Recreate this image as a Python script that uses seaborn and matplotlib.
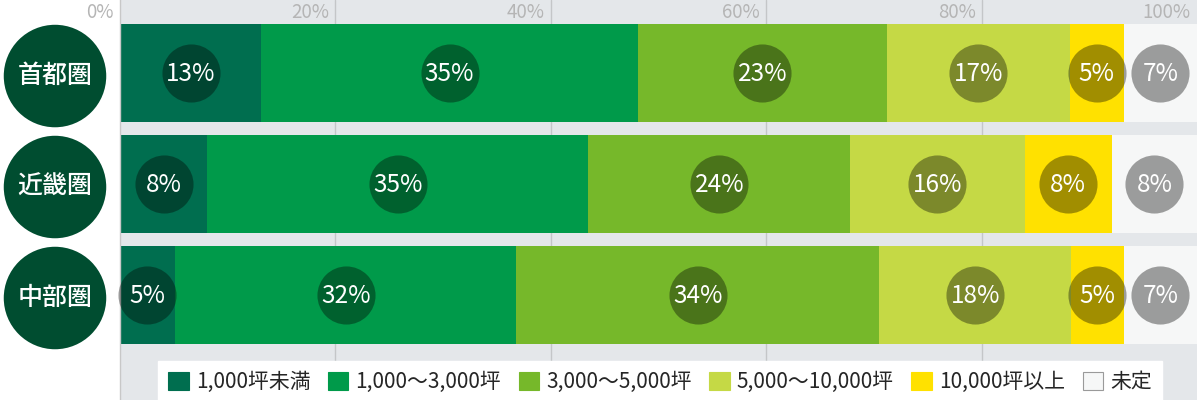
import numpy as np
import pandas as pd
import matplotlib
matplotlib.use('Agg')
import matplotlib.pyplot as plt
import matplotlib.transforms as mtransforms
import seaborn as sns
from matplotlib.patches import Patch

regions = ['首都圏', '近畿圏', '中部圏']
sizes = ['1,000坪未満', '1,000～3,000坪', '3,000～5,000坪',
         '5,000～10,000坪', '10,000坪以上', '未定']

# segment widths (%)
share_shuto = [13.1, 35.0, 23.1, 17.0, 5.0, 6.8]
share_kinki = [8.1, 35.4, 24.3, 16.2, 8.1, 7.9]
share_chubu = [5.1, 31.7, 33.7, 17.8, 4.9, 6.8]

# printed percentages
label_shuto = [13, 35, 23, 17, 5, 7]
label_kinki = [8, 35, 24, 16, 8, 8]
label_chubu = [5, 32, 34, 18, 5, 7]

colors = ['#006e4f', '#009a4a', '#76b82a', '#c5d945', '#ffe100', '#f6f7f7']
ticks = [0, 20, 40, 60, 80, 100]

sns.set_style('white')
plt.rcParams['font.family'] = ['Noto Sans CJK JP', 'DejaVu Sans']

shares = np.array([share_shuto, share_kinki, share_chubu])
labels = np.array([label_shuto, label_kinki, label_chubu])
cum = shares.cumsum(axis=1)
df = pd.DataFrame(cum, columns=sizes)
df['region'] = regions

fig = plt.figure(figsize=(12, 4), dpi=100)
ax = fig.add_axes([0.1, 0.0, 0.8975, 1.0])
ax.set_facecolor('#e4e7ea')

# stacked bars: draw cumulative totals from the longest to the shortest
for k in range(len(sizes) - 1, -1, -1):
    sns.barplot(data=df, x=sizes[k], y='region', orient='h', color=colors[k],
                saturation=1, width=0.88, linewidth=0, errorbar=None, ax=ax, zorder=2)

# value circles at the middle of each segment
centers = cum - shares / 2
rows = np.repeat(np.arange(len(regions)), len(sizes))
ax.scatter(centers.ravel(), rows, s=1750, color='black', alpha=0.37,
           linewidths=0, zorder=3, clip_on=False)
for cx, r, v in zip(centers.ravel(), rows, labels.ravel()):
    ax.text(cx, r + 0.012, f'{v}%', ha='center', va='center', color='white',
            fontsize=17.5, zorder=4)

ax.set_xlim(0, 100)
ax.set_ylim(2.946, -0.658)
ax.set_xlabel('')
ax.set_ylabel('')

# grid and top tick labels
ax.set_xticks(ticks[1:-1])
ax.tick_params(axis='x', length=0, labelbottom=False)
ax.grid(axis='x', color='#c4c6c8', lw=1)
ax.set_axisbelow(True)
off = mtransforms.offset_copy(ax.get_xaxis_transform(), fig=fig, x=-6, y=0, units='dots')
for t in ticks:
    ax.text(t, 0.968, f'{t}%', transform=off, ha='right', va='center',
            color='#b5b5b5', fontsize=13.5, clip_on=False)

# region names in dark circles
ax.set_yticks(range(len(regions)))
ax.set_yticklabels(regions, fontsize=18, color='white', fontweight='medium')
ax.tick_params(axis='y', length=0, pad=46.8)
for lab in ax.get_yticklabels():
    lab.set_ha('center')
    lab.set_bbox(dict(boxstyle='circle,pad=0.55', fc='#004d30', ec='none'))

for s in ['top', 'right', 'bottom']:
    ax.spines[s].set_visible(False)
ax.spines['left'].set_color('#c8c8c8')
ax.spines['left'].set_linewidth(1)

handles = [Patch(facecolor=c, edgecolor='#9a9a9a' if i == 5 else c, linewidth=0.8)
           for i, c in enumerate(colors)]
leg = fig.legend(handles, sizes, loc='upper center', bbox_to_anchor=(660 / 1200, 1 - 361 / 400),
                 ncol=6, frameon=True, fancybox=False, framealpha=1, facecolor='white',
                 edgecolor='white', fontsize=15, handlelength=0.97, handleheight=0.97,
                 handletextpad=0.34, columnspacing=0.85, borderpad=0.5, borderaxespad=0)

fig.savefig('out.png', dpi=100, facecolor='white')
